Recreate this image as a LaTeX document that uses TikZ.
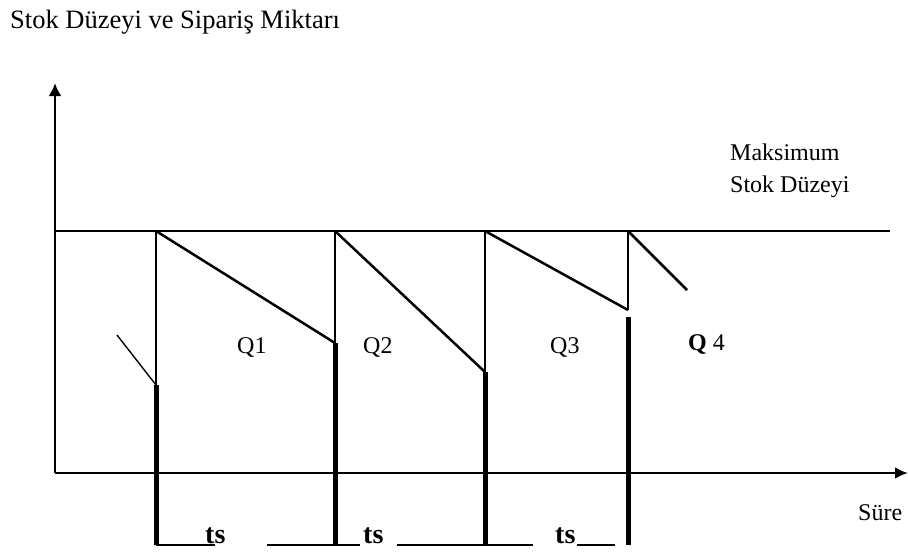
\documentclass[tikz,border=0pt]{standalone}
\usepackage{fontspec}
\setmainfont{Liberation Serif}
\usetikzlibrary{arrows.meta}

\begin{document}
\begin{tikzpicture}[x=1pt,y=-1pt,
  lbl/.style={inner sep=0pt,font=\fontsize{24}{32}\selectfont},
  tslbl/.style={inner sep=0pt,font=\fontsize{28}{32}\selectfont\bfseries},
  stockline/.style={line width=2.5pt},
  orderline/.style={line width=5pt}]
\useasboundingbox (0,0) rectangle (908,552);
% axes
\coordinate (o) at (55,473);
\draw[line width=2.8pt,-{Latex[length=13pt,width=13pt]}] (o) -- (55,83);
\draw[line width=2.8pt,-{Latex[length=13pt,width=12pt]}] (o) -- (908,473);
\draw[line width=1.8pt] (55,231) -- (890,231);
% orders: thin part up to max level, thick part down below the axis
\foreach \n/\x/\y/\z in {1/156/385/385,2/335/343/343,3/485/372/372,4/628/310/317}{
  \coordinate (top\n) at (\x,231);
  \coordinate (low\n) at (\x,\y);
  \draw[stockline] (top\n) -- (low\n);
  \draw[orderline] (\x,\z) -- (\x,545);
}
% stock level falling
\coordinate (start) at (117,335);
\coordinate (end4) at (687,290);
\draw[line width=1.4pt] (start) -- (low1);
\draw[stockline] (top1) -- (low2);
\draw[stockline] (top2) -- (low3);
\draw[stockline] (top3) -- (low4);
\draw[stockline] (top4) -- (end4);
% order intervals
\foreach \a/\b in {156/215,267/360,397/533,577/615}
  \draw[line width=1.8pt] (\a,545) -- (\b,545);
\foreach \n/\x in {1/205,2/363,3/555}
  \node[tslbl,anchor=base west] (ts\n) at (\x,543) {ts};
% labels
\node[lbl,font=\fontsize{26.5}{32}\selectfont,anchor=base west] (title) at (10,28) {Stok Düzeyi ve Sipariş Miktarı};
\node[lbl,align=left,anchor=north west] (maxlbl) at (730,144) {Maksimum\\Stok Düzeyi};
\node[lbl,anchor=base west] (sure) at (858,520) {Süre};
\foreach \n/\x in {1/237,2/363,3/550}
  \node[lbl,anchor=base west] (q\n) at (\x,353) {Q\n};
\node[lbl,anchor=base west] (q4) at (688,350) {\textbf{Q} 4};
\end{tikzpicture}
\end{document}
